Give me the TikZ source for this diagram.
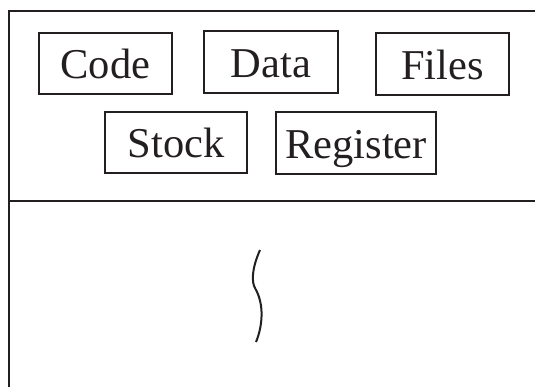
\documentclass[tikz,border=0pt]{standalone}
\usepackage{fontspec}
\setmainfont{Liberation Serif}
\definecolor{ink}{HTML}{231F20}
\tikzset{
  frame/.style={draw=ink, line width=1pt},
  membox/.style={draw=ink, line width=0.8pt, inner sep=0pt, text=ink,
    font=\fontsize{21.25}{25}\selectfont, text height=15pt, text depth=0pt},
}
\begin{document}
\begin{tikzpicture}[x=0.5pt,y=-0.5pt]
\useasboundingbox (0,0) rectangle (535,386);
% outer frame (right and bottom edges fall outside)
\draw[frame] (9,390) -- (9,11) -- (540,11);
\draw[frame] (9,201) -- (540,201);
% memory boxes
\node[membox, minimum width=66.5pt, minimum height=30.5pt] (code) at (105.5,63.5) {Code};
\node[membox, minimum width=67pt, minimum height=31pt] (data) at (271,62) {Data};
\node[membox, minimum width=66.5pt, minimum height=31pt] (files) at (442.5,64) {Files};
\node[membox, minimum width=71pt, minimum height=30.5pt] (stock) at (176,142.5) {Stock};
\node[membox, minimum width=80pt, minimum height=31pt] (register) at (356,143) {Register};
% wavy thread line
\draw[ink, line width=1pt] (260,250) .. controls (252,268) and (251,282) .. (255.5,289)
  .. controls (264,304) and (263,325) .. (256,342);
\end{tikzpicture}
\end{document}
